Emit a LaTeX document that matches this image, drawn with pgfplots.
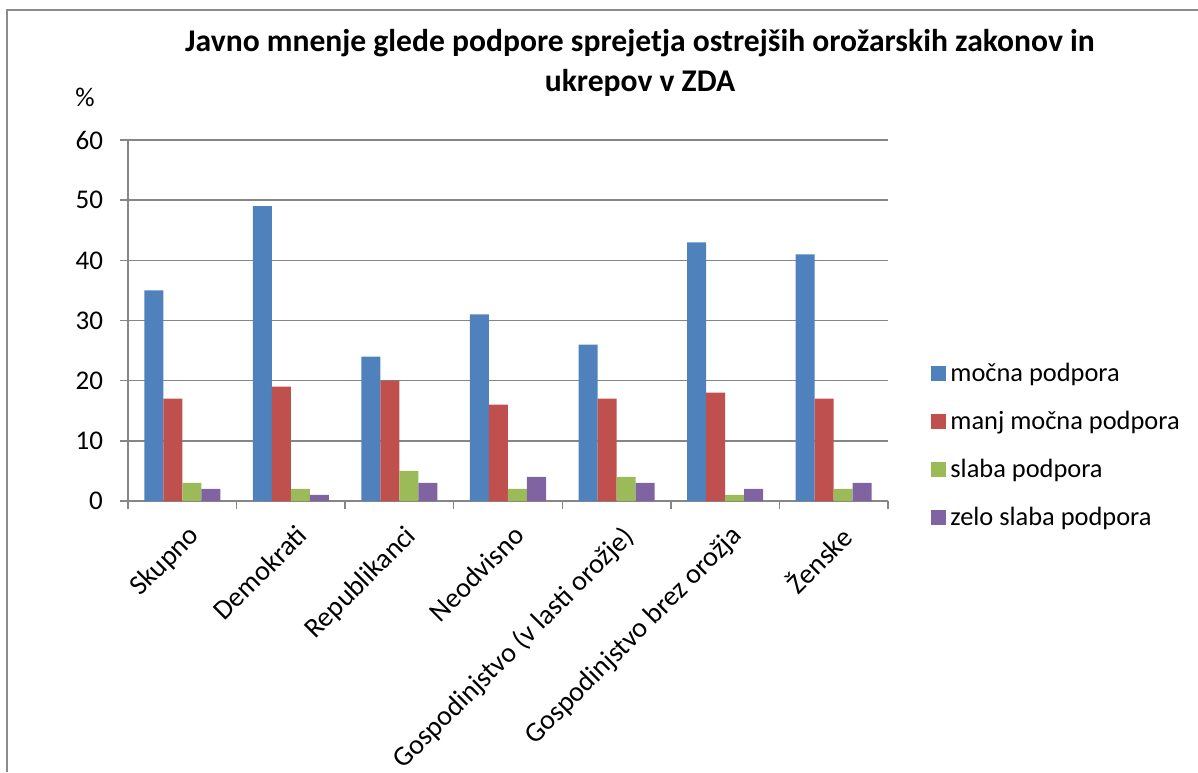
\documentclass[border=0pt]{standalone}
\usepackage{pgfplots}
\pgfplotsset{compat=1.18}
\usepackage{fontspec}
\setmainfont{Carlito}
\definecolor{cblue}{HTML}{4F81BD}
\definecolor{cred}{HTML}{C0504D}
\definecolor{cgreen}{HTML}{9BBB59}
\definecolor{cpurple}{HTML}{8064A2}
\definecolor{frame}{HTML}{8C8C8C}
\definecolor{gridc}{HTML}{868686}
\pgfplotsset{sqlegend/.style={legend image code/.code={\fill[##1] (0pt,-3.5pt) rectangle (7.5pt,4pt);}}}
\begin{document}
\begin{tikzpicture}[x=0.5pt,y=0.5pt]
\useasboundingbox (0,0) rectangle (1198,772);
\draw[frame, line width=1.2pt] (7,0) -- (7,762) -- (1198,762);
\node[anchor=base, font=\bfseries\fontsize{15.8}{18}\selectfont] at (640,720) {Javno mnenje glede podpore sprejetja ostrejših orožarskih zakonov in};
\node[anchor=base, font=\bfseries\fontsize{15.8}{18}\selectfont] at (640,680) {ukrepov v ZDA};
\node[font=\fontsize{13.5}{15}\selectfont] at (85,675) {\%};
\begin{axis}[
  at={(64pt,135.5pt)}, anchor=south west,
  width=380pt, height=180.5pt, scale only axis,
  xmin=-0.5, xmax=6.5, ymin=0, ymax=60,
  ytick={0,10,...,60},
  xtick={0,...,6},
  xticklabels={Skupno,Demokrati,Republikanci,Neodvisno,Gospodinjstvo (v lasti orožje),Gospodinjstvo brez orožja,Ženske},
  minor xtick={-0.5,0.5,...,6.5},
  major x tick style={draw=none},
  tick align=outside,
  major tick length=4pt, minor tick length=4pt,
  tick style={gridc, line width=0.75pt},
  axis x line*=bottom, axis y line*=left,
  axis line style={gridc, line width=0.75pt},
  ymajorgrids, grid style={gridc, line width=0.75pt},
  ticklabel style={font=\fontsize{13.5}{15}\selectfont},
  yticklabel style={xshift=-5pt},
  /pgf/number format/assume math mode=true,
  x tick label style={rotate=45, anchor=north east, inner sep=1pt, xshift=-2.5pt, yshift=-5.5pt, font=\fontsize{14}{16}\selectfont},
  ybar=0pt, bar width=9.5pt,
  legend style={at={(1.0566,0.1524)}, anchor=west, draw=none, fill=none, inner sep=0pt,
    font=\fontsize{13.2}{15}\selectfont, row sep=9.3pt},
  legend cell align=left,
]
\addplot[fill=cblue, draw=none, sqlegend] coordinates {(0,35) (1,49) (2,24) (3,31) (4,26) (5,43) (6,41)};
\addplot[fill=cred, draw=none, sqlegend] coordinates {(0,17) (1,19) (2,20) (3,16) (4,17) (5,18) (6,17)};
\addplot[fill=cgreen, draw=none, sqlegend] coordinates {(0,3) (1,2) (2,5) (3,2) (4,4) (5,1) (6,2)};
\addplot[fill=cpurple, draw=none, sqlegend] coordinates {(0,2) (1,1) (2,3) (3,4) (4,3) (5,2) (6,3)};
\legend{močna podpora, manj močna podpora, slaba podpora, zelo slaba podpora}
\end{axis}
\end{tikzpicture}
\end{document}
